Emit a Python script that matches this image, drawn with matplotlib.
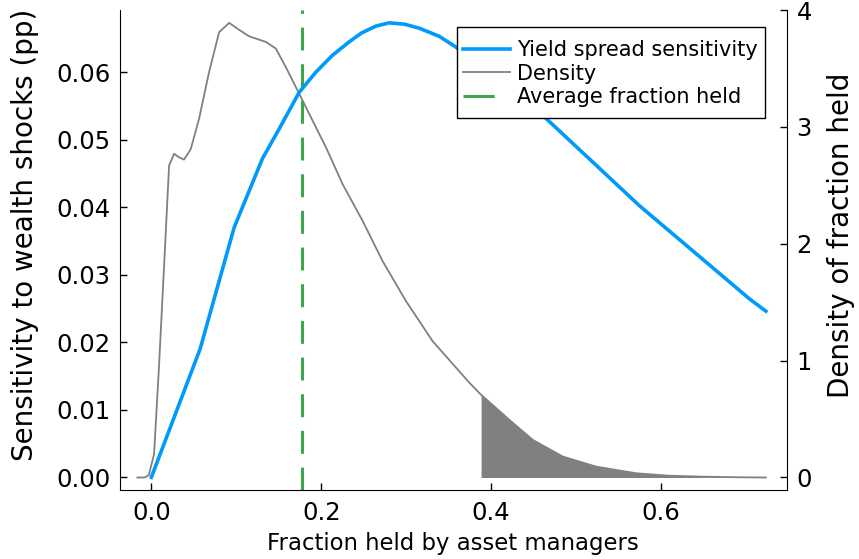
import matplotlib
matplotlib.use("Agg")
import matplotlib.pyplot as plt
from matplotlib.lines import Line2D
from matplotlib.patches import Rectangle
import numpy as np

# Yield spread sensitivity (left axis)
frac_x = [0.0, 0.0574, 0.0975, 0.1308, 0.1505, 0.174, 0.1937, 0.2133, 0.233, 0.2475,
          0.2640, 0.280, 0.2980, 0.3155, 0.339, 0.3587, 0.4608, 0.5748, 0.7044, 0.7235]
sensitivity = [0.0, 0.0190, 0.0370, 0.0472, 0.0516, 0.0570, 0.0600, 0.0625, 0.0645, 0.0658,
               0.0668, 0.0673, 0.0671, 0.0665, 0.0653, 0.0637, 0.0536, 0.0402, 0.0264, 0.0246]

# Density of fraction held (right axis)
dens_x = [-0.0164, -0.008, -0.003, 0.0032, 0.009, 0.015, 0.0189, 0.0209, 0.0268, 0.0325,
          0.0385, 0.0464, 0.0562, 0.068, 0.0798, 0.0916, 0.1034, 0.1151, 0.1348, 0.1466,
          0.1584, 0.1741, 0.1898, 0.2055, 0.2251, 0.2487, 0.2722, 0.2998, 0.3312, 0.3626,
          0.3745, 0.3882, 0.4059, 0.4214, 0.449, 0.4844, 0.5237, 0.5709, 0.610, 0.649,
          0.69, 0.7235]
density = [0.0, 0.0, 0.02, 0.2, 0.95, 1.81, 2.38, 2.67, 2.77, 2.74,
           2.72, 2.81, 3.07, 3.47, 3.81, 3.89, 3.83, 3.775, 3.727, 3.67,
           3.51, 3.283, 3.054, 2.826, 2.511, 2.196, 1.852, 1.509, 1.166, 0.908,
           0.81, 0.708, 0.594, 0.494, 0.322, 0.179, 0.093, 0.036, 0.015, 0.007,
           0.002, 0.0]

avg_fraction = 0.177
tail_start = 0.3882

left_ticks = [0.00, 0.01, 0.02, 0.03, 0.04, 0.05, 0.06]
right_ticks = [0, 1, 2, 3, 4]
x_ticks = [0.0, 0.2, 0.4, 0.6]

blue = "#009AFA"
gray = "#808080"
green = "#3EA44E"

fig = plt.figure(figsize=(8.59, 5.59), dpi=100)
ax = fig.add_axes([120/859, 69/559, (786.7-120)/859, (490-10)/559])
ax2 = ax.twinx()

lb, = ax.plot(frac_x, sensitivity, color=blue, lw=2.6, label="Yield spread sensitivity",
              zorder=3, solid_joinstyle="round")
ld, = ax2.plot(dens_x, density, color=gray, lw=1.3, label="Density", zorder=2,
               solid_joinstyle="round")
dx = np.array(dens_x); dd = np.array(density)
m = dx >= tail_start - 1e-9
ax2.fill_between(dx[m], 0, dd[m], color=gray, lw=0, zorder=1)
ax.axvline(avg_fraction, color=green, lw=2.2, ls=(0, (7.5, 4.5)), zorder=2)
lg = Line2D([], [], color=green, lw=2.2, ls=(0, (10.2, 30)), label="Average fraction held")

ax.set_xlim(-0.0369, 0.748)
ax.set_ylim(-0.00188, 0.0692)
ax2.set_ylim(-0.107, 4.0)
ax.set_xticks(x_ticks)
ax.set_xticklabels([f"{v:.1f}" for v in x_ticks])
ax.set_yticks(left_ticks)
ax.set_yticklabels([f"{v:.2f}" for v in left_ticks])
ax2.set_yticks(right_ticks)
ax2.set_yticklabels([str(v) for v in right_ticks])

for a in (ax, ax2):
    a.spines["top"].set_visible(False)
    a.tick_params(direction="in", length=5, width=1, labelsize=17.5)
ax.spines["right"].set_visible(False)
ax2.spines["left"].set_visible(False)
ax2.spines["bottom"].set_visible(False)
ax.tick_params(axis="x", pad=8)
ax.tick_params(axis="y", pad=7)
ax2.tick_params(axis="y", pad=7)

ax.set_xlabel("Fraction held by asset managers", fontsize=16.4, labelpad=5)
ax.set_ylabel("Sensitivity to wealth shocks (pp)", fontsize=20, labelpad=12, y=0.531)
ax2.set_ylabel("Density of fraction held", fontsize=20, labelpad=11, y=0.531)

ax.set_zorder(ax2.get_zorder() + 1)
ax.patch.set_visible(False)

# legend frame
frame = Rectangle((457/859, 1 - 118/559), 308/859, 91/559, transform=fig.transFigure,
                  facecolor="white", edgecolor="black", lw=1.0, zorder=4.9, clip_on=False)
ax.add_patch(frame)
leg = ax.legend(handles=[lb, ld, lg], loc="upper left", bbox_to_anchor=(463/859, 1 - 40/559),
                bbox_transform=fig.transFigure, fontsize=15, frameon=False,
                borderpad=0, labelspacing=0.17,
                handlelength=2.26, handletextpad=0.32, borderaxespad=0)
leg.set_zorder(5)

fig.savefig("out.png", dpi=100)
